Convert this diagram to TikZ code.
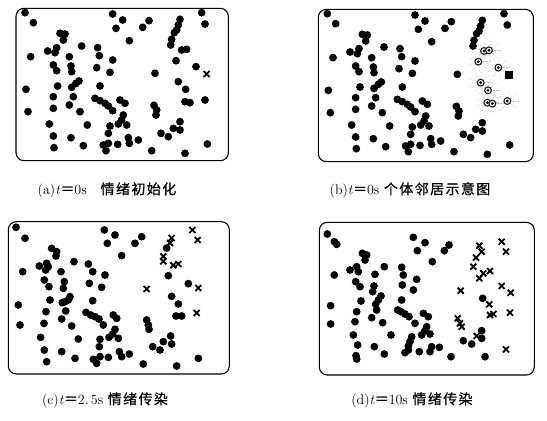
\documentclass[tikz,border=0pt]{standalone}
\usepackage{fontspec}
\newfontfamily\cjk[LetterSpace=10,FakeBold=0.5]{Noto Sans CJK SC}

% agents that stay calm (zoomed pixel coordinates, 3x)
\newcommand\calmA{75/38, 100/68, 338/42, 368/60, 348/85, 447/62, 428/82, 540/58, 535/75, 530/90, 523/98, 605/38, 615/72,
  180/100, 195/102, 190/120, 388/122, 515/118, 512/135,
  143/153, 165/158, 170/143, 92/170, 245/138, 293/143, 298/167, 208/170, 338/180,
  160/195, 170/212, 213/198, 215/215, 290/203, 330/217, 465/220,
  237/243, 228/250, 215/262, 173/258, 300/258,
  78/268, 160/290, 220/290, 285/295, 300/302, 315/310, 325/318, 360/300, 375/310,
  208/315, 160/325, 84/335, 240/335, 338/332, 462/316, 470/330, 468/345,
  370/345, 365/360, 355/372, 380/375, 148/372, 262/375, 330/378, 540/365, 520/385, 540/390, 483/400, 505/410,
  325/400, 160/408, 213/413, 385/413, 415/420, 388/430, 310/435, 325/430, 318/452, 250/437, 353/433, 162/443, 455/452, 555/460, 622/432}
% neighbours of the first spreader
\newcommand\nbrA{528/182, 588/200, 535/245, 557/268, 615/300, 555/305, 570/308, 545/150, 560/148}

\newcommand\calmC{48/52, 75/85, 313/60, 345/75, 322/100, 425/80, 405/100, 365/137,
  155/115, 170/125, 168/138, 118/168, 140/160, 145/170, 137/180,
  222/155, 265/162, 278/185, 315/195, 68/185, 183/185,
  133/210, 147/230, 193/215, 190/235, 268/220, 305/232,
  210/260, 205/270, 195/275, 187/278, 150/270, 278/272,
  55/285, 138/305, 197/303, 258/307, 272/315, 285/320, 297/327, 310/345, 340/315, 350/325,
  440/330, 445/345, 447/358, 185/327, 132/340, 60/345, 215/348,
  345/358, 338/372, 327/382, 355/385, 122/382, 235/387, 300/388, 298/410, 512/378, 515/402, 490/395, 458/410, 480/420,
  133/420, 185/425, 225/445, 280/448, 290/460, 300/440, 325/442, 358/425, 365/440, 388/432, 140/455, 430/462, 530/468, 595/445,
  500/114, 505/197, 565/221, 515/259, 535/282, 528/318, 545/318}
\newcommand\spreadC{577/60, 593/90, 515/84, 510/99, 490/139, 490/154, 520/166, 535/162, 440/237, 595/234, 590/309}

\newcommand\calmD{157/72, 178/95, 185/103, 415/82, 450/98, 427/122, 522/105, 508/122, 472/155,
  262/130, 275/135, 270/150, 225/180, 245/170, 250/185, 242/215, 255/230, 178/195, 300/193, 328/170,
  380/172, 385/195, 425/208, 382/225, 415/240, 297/228, 293/245,
  318/258, 310/270, 302/283, 258/273, 380/270,
  167/287, 245/305, 305/300, 368/300, 378/305, 390/312, 402/320, 290/323, 323/338, 240/335, 420/340, 445/310, 460/320,
  455/350, 450/362, 440/375, 465/372, 167/342, 235/375, 348/375, 410/380, 405/395, 400/408,
  248/405, 243/437, 245/447, 298/410, 328/432, 390/428, 400/420, 433/425, 470/410, 465/425, 493/412,
  528/440, 565/392, 590/402, 620/362, 620/385, 630/440, 623/265}
\newcommand\spreadD{613/107, 620/125, 603/143, 595/170, 613/205, 625/190, 645/183, 680/95, 693/125,
  557/242, 643/283, 645/315, 655/312, 680/228, 707/248, 705/308, 548/325, 555/340, 560/350, 605/378, 693/418}

\begin{document}
\begin{tikzpicture}[
  x=0.3333pt, y=-0.3333pt,
  every node/.style={font=\fontsize{14}{16}\selectfont},
  frame/.style={draw, line width=1.1pt, rounded corners=8pt},
  agent/.style={fill=black},
  spread/.style={draw, line width=1.8pt},
  nbr/.style={draw=gray!20!black, fill=white, line width=1.1pt},
  ray/.style={gray!55, densely dotted, line width=0.5pt},
  caption/.style={inner sep=0pt}
]
\useasboundingbox (0,0) rectangle (1641,1260);

% ---- (a) initial state ----
\begin{scope}
  \draw[frame] (48,25) rectangle (685,482);
  \foreach \x/\y in \calmA \fill[agent] (\x,\y) circle (3.9pt);
  \foreach \x/\y in \nbrA \fill[agent] (\x,\y) circle (3.9pt);
  \draw[spread] (620,222) +(-3pt,-3pt) -- +(3pt,3pt) +(-3pt,3pt) -- +(3pt,-3pt);
\end{scope}

% ---- (b) neighbours ----
\begin{scope}[shift={(907,3)}]
  \draw[frame] (48,25) rectangle (693,482);
  \foreach \x/\y in \calmA \fill[agent] (\x,\y) circle (3.9pt);
  \foreach \x/\y in \nbrA {
    \foreach \a in {0,40,...,320} \draw[ray] (\x,\y) -- ++(\a:11pt);
    \draw[nbr] (\x,\y) circle (3.4pt);
    \fill (\x,\y) circle (1.6pt);
  }
  \fill[agent] (620,222) +(-3.6pt,-3.6pt) rectangle +(3.6pt,3.6pt);
\end{scope}

% ---- (c) t = 2.5 s ----
\begin{scope}[shift={(0,630)}]
  \draw[frame] (25,35) rectangle (688,492);
  \foreach \x/\y in \calmC \fill[agent] (\x,\y) circle (3.9pt);
  \foreach \x/\y in \spreadC
    \draw[spread] (\x,\y) +(-3pt,-3pt) -- +(3pt,3pt) +(-3pt,3pt) -- +(3pt,-3pt);
\end{scope}

% ---- (d) t = 10 s ----
\begin{scope}[shift={(825,630)}]
  \draw[frame] (133,37) rectangle (778,495);
  \foreach \x/\y in \calmD \fill[agent] (\x,\y) circle (3.9pt);
  \foreach \x/\y in \spreadD
    \draw[spread] (\x,\y) +(-3pt,-3pt) -- +(3pt,3pt) +(-3pt,3pt) -- +(3pt,-3pt);
\end{scope}

% ---- captions ----
\node[caption] (cap-a) at (321,570)  {(a)\textit{t}{\cjk ＝}0s\quad{\cjk 情绪初始化}};
\node[caption] (cap-b) at (1230,570) {(b)\textit{t}{\cjk ＝}0s\ {\cjk 个体邻居示意图}};
\node[caption] (cap-c) at (315,1200) {(c)\textit{t}{\cjk ＝}2.\,5s\ {\cjk 情绪传染}};
\node[caption] (cap-d) at (1236,1200) {(d)\textit{t}{\cjk ＝}10s\ {\cjk 情绪传染}};

\end{tikzpicture}
\end{document}
